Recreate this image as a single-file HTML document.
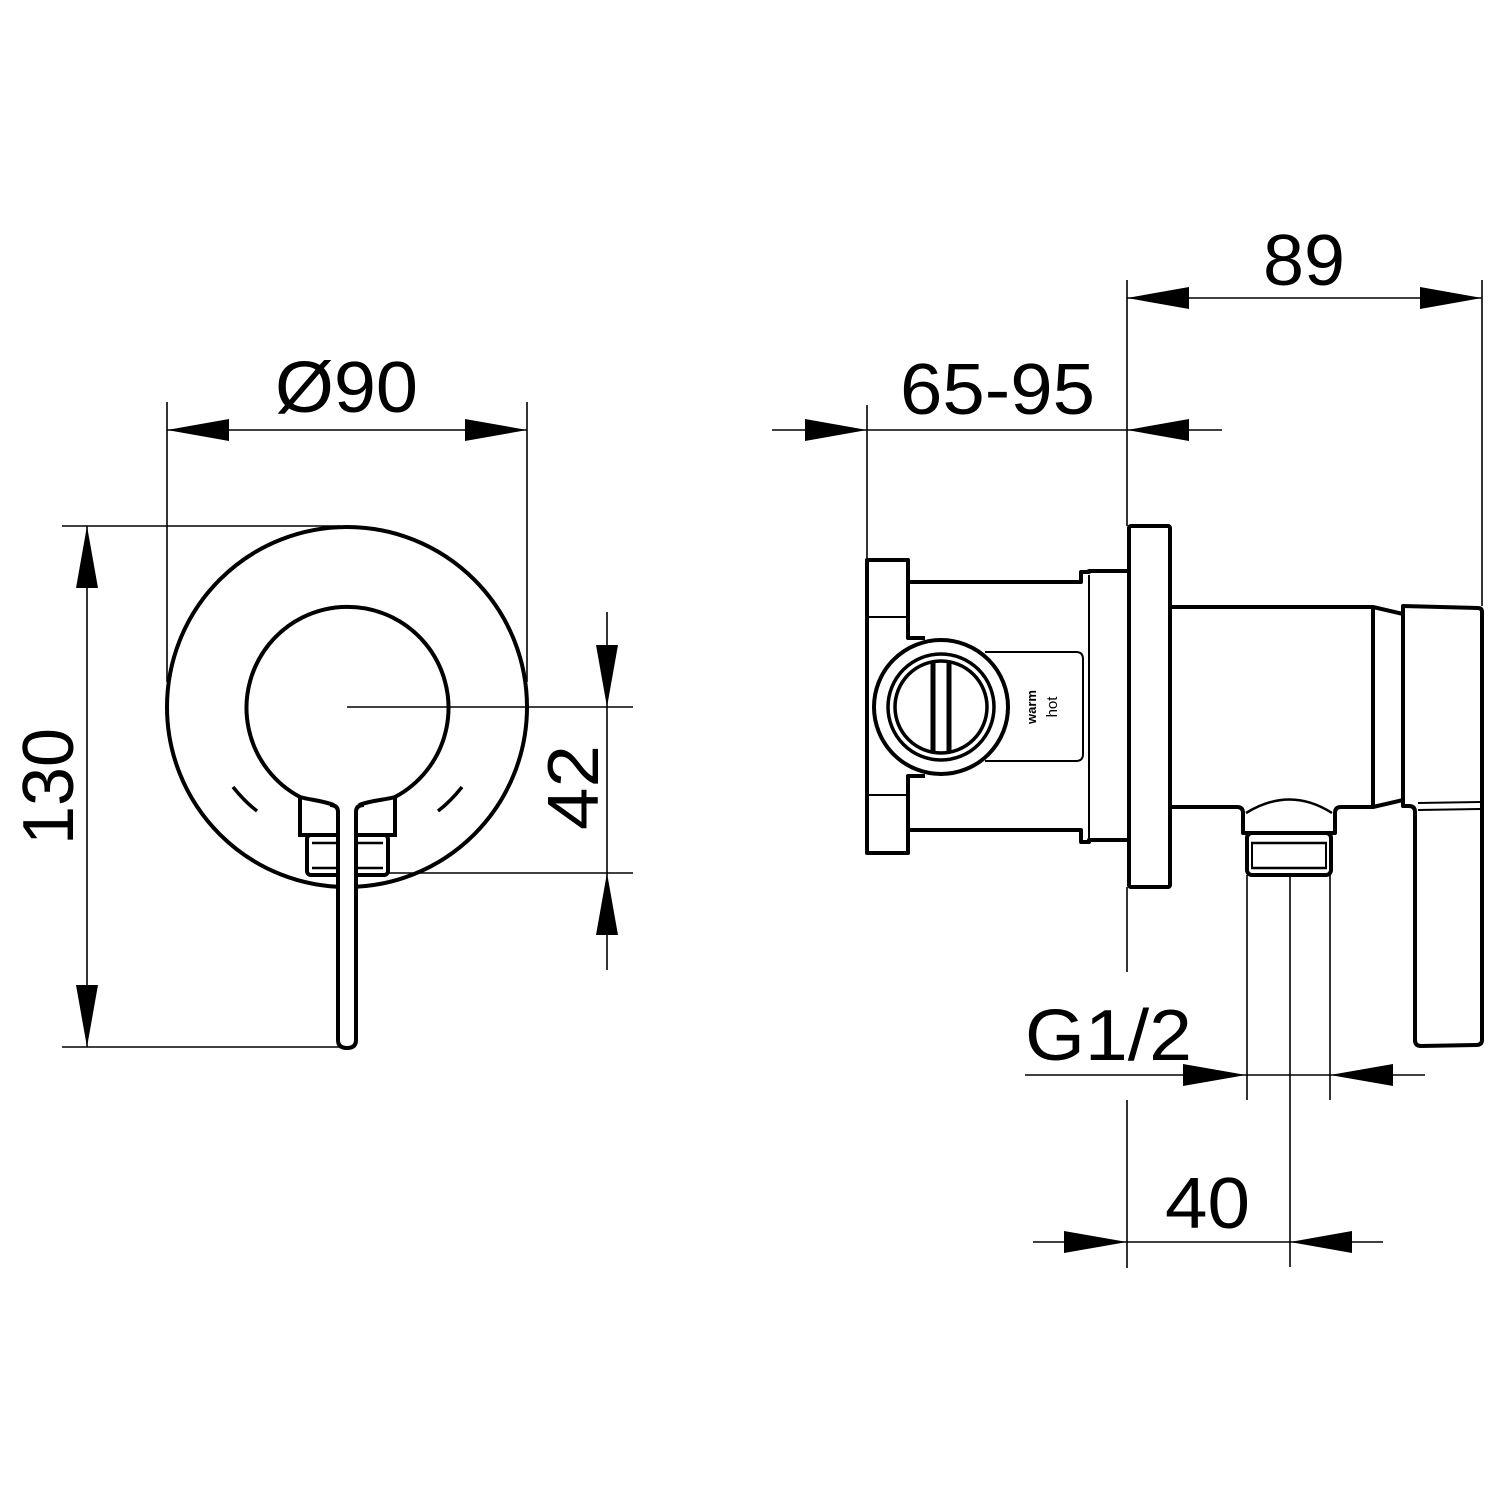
<!DOCTYPE html>
<html><head><meta charset="utf-8"><style>
html,body{margin:0;padding:0;background:#fff}
svg{display:block}
text{font-family:"Liberation Sans",Arial,sans-serif;fill:#000}
</style></head><body>
<svg width="1500" height="1500" viewBox="0 0 1500 1500" xmlns="http://www.w3.org/2000/svg">
<g fill="none" stroke="#000" stroke-width="1.6">
<line x1="167" y1="402" x2="167" y2="682"/>
<line x1="527" y1="402" x2="527" y2="682"/>
<line x1="167" y1="430" x2="527" y2="430"/>
<line x1="62" y1="526" x2="340" y2="526"/>
<line x1="62" y1="1047" x2="340" y2="1047"/>
<line x1="87" y1="526" x2="87" y2="1047"/>
<line x1="347" y1="707" x2="633" y2="707"/>
<line x1="388" y1="873" x2="633" y2="873"/>
<line x1="607" y1="612" x2="607" y2="970"/>
<line x1="772" y1="430" x2="1222" y2="430"/>
<line x1="867" y1="405" x2="867" y2="560"/>
<line x1="1127" y1="280" x2="1127" y2="526"/>
<line x1="1127" y1="887" x2="1127" y2="972"/>
<line x1="1127" y1="298" x2="1482" y2="298"/>
<line x1="1482" y1="280" x2="1482" y2="606"/>
<line x1="1025" y1="1075" x2="1425" y2="1075"/>
<line x1="1247" y1="875" x2="1247" y2="1100"/>
<line x1="1330" y1="875" x2="1330" y2="1100"/>
<line x1="1290" y1="875" x2="1290" y2="1267"/>
<line x1="1127" y1="1100" x2="1127" y2="1268"/>
<line x1="1033" y1="1242" x2="1383" y2="1242"/>
</g>
<g fill="#000">
<polygon points="167,430 229,419 229,441"/>
<polygon points="527,430 465,419 465,441"/>
<polygon points="87,526 76,588 98,588"/>
<polygon points="87,1047 76,985 98,985"/>
<polygon points="607,707 596,645 618,645"/>
<polygon points="607,873 596,935 618,935"/>
<polygon points="867,430 805,419 805,441"/>
<polygon points="1127,430 1189,419 1189,441"/>
<polygon points="1127,298 1189,287 1189,309"/>
<polygon points="1482,298 1420,287 1420,309"/>
<polygon points="1246,1075 1183,1064 1183,1086"/>
<polygon points="1330,1075 1393,1064 1393,1086"/>
<polygon points="1127,1242 1064,1231 1064,1253"/>
<polygon points="1290,1242 1352,1231 1352,1253"/>
</g>
<g font-size="72">
<text x="275" y="412" textLength="143" lengthAdjust="spacingAndGlyphs">Ø90</text>
<text x="900" y="414" textLength="195" lengthAdjust="spacingAndGlyphs">65-95</text>
<text x="1263" y="285" textLength="82" lengthAdjust="spacingAndGlyphs">89</text>
<text x="1025" y="1060" textLength="167" lengthAdjust="spacingAndGlyphs">G1/2</text>
<text x="1165" y="1228" textLength="85" lengthAdjust="spacingAndGlyphs">40</text>
<text transform="translate(73,845) rotate(-90)" textLength="117" lengthAdjust="spacingAndGlyphs">130</text>
<text transform="translate(598,830) rotate(-90)" textLength="85" lengthAdjust="spacingAndGlyphs">42</text>
</g>

<g fill="none" stroke="#000" stroke-width="4">
<circle cx="347" cy="707" r="180"/>
<path d="M334,805 C320,800 310,800 300,797 L300,835 L395,835 L395,797 C385,800 372,800 359,805" fill="#fff"/>
<path d="M300,797 A101,101 0 1 1 395,797" />
<rect x="307" y="835" width="81" height="40" rx="4" fill="#fff"/>
<line x1="312" y1="843" x2="383" y2="843" stroke-width="2.5"/>
<line x1="312" y1="868" x2="383" y2="868" stroke-width="2.5"/>
<path d="M338,812 L338,1040 Q338,1048 347,1048 Q356,1048 356,1040 L356,812 Q356,805 364,805 M338,812 Q338,805 330,805" fill="#fff"/>
</g>
<g fill="none" stroke="#000" stroke-width="3.5">
<path d="M233,787 Q245,802 257,811"/>
<path d="M462,787 Q450,802 438,811"/>
</g>

<g fill="none" stroke="#000" stroke-width="4" stroke-linejoin="round">
<path d="M925,638 L908,638 L908,560 L867,560 L867,853 L908,853 L908,776 L925,776"/>
<line x1="867" y1="617" x2="908" y2="617" stroke-width="2"/>
<line x1="867" y1="795" x2="908" y2="795" stroke-width="2"/>
<path d="M908,582 L1081,582 L1081,572 L1089,572 L1089,571 L1128,571"/>
<path d="M908,830 L1081,830 L1081,842 L1089,842 L1089,840 L1128,840"/>
<line x1="1089" y1="575" x2="1089" y2="838" stroke-width="2"/>
<path d="M985,652 L1076,652 Q1083,652 1083,659 L1083,754 Q1083,761 1076,761 L985,761" stroke-width="2"/>
<ellipse cx="941" cy="707" rx="67" ry="67" fill="#fff"/>
<circle cx="941" cy="707" r="53" stroke-width="3.5"/>
<circle cx="941" cy="707" r="46" stroke-width="3.5"/>
<line x1="933" y1="663" x2="933" y2="751" stroke-width="5"/>
<line x1="949" y1="663" x2="949" y2="751" stroke-width="5"/>
<rect x="1129" y="526" width="41" height="361" rx="2"/>
<path d="M1170,607 L1373,607 L1403,614"/>
<path d="M1170,807 L1237,807 Q1243,807 1243,813 L1243,833 L1335,833 L1335,813 Q1335,807 1341,807 L1373,807 L1403,800"/>
<line x1="1373" y1="607" x2="1373" y2="807"/>
<path d="M1246,813 Q1290,786 1332,813" stroke-width="2.5"/>
<rect x="1247" y="833" width="84" height="42" rx="5"/>
<line x1="1251" y1="843" x2="1327" y2="843" stroke-width="2.5"/>
<line x1="1251" y1="868" x2="1327" y2="868" stroke-width="2.5"/>
<line x1="1252" y1="843" x2="1252" y2="868" stroke-width="2"/>
<line x1="1326" y1="843" x2="1326" y2="868" stroke-width="2"/>
<path d="M1403,606 L1478,608 Q1482,608 1482,612 L1482,1040 Q1482,1045 1476,1045 L1421,1046 Q1415,1046 1415,1040 L1415,812 Q1415,806 1409,806 L1403,806 Z"/>
<line x1="1418" y1="803" x2="1480" y2="802" stroke-width="2"/>
<line x1="1418" y1="810" x2="1480" y2="809" stroke-width="2"/>
</g>
<text transform="translate(1036,707) rotate(-90)" font-size="13" text-anchor="middle" font-weight="bold">warm</text>
<text transform="translate(1057,707) rotate(-90)" font-size="15" text-anchor="middle">hot</text>
</svg>
</body></html>
